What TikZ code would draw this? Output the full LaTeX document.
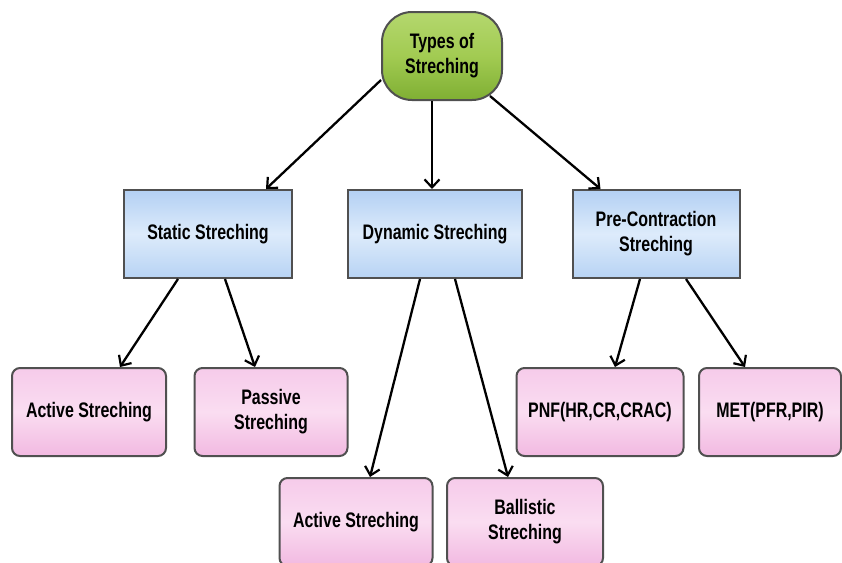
\documentclass[tikz,border=0pt]{standalone}
\usepackage{fontspec}
\setmainfont{Liberation Sans}[FakeStretch=0.76]
\usepackage{tikz}
\usetikzlibrary{arrows.meta}

\definecolor{edge}{HTML}{505050}
\definecolor{greentop}{HTML}{B4D76E}
\definecolor{greenmid}{HTML}{A2CB52}
\definecolor{greenbot}{HTML}{7FAF33}
\definecolor{bluetop}{HTML}{B3D0F3}
\definecolor{bluemid}{HTML}{DDEBFB}
\definecolor{bluebot}{HTML}{B7D3F4}
\definecolor{pinktop}{HTML}{F6CBEA}
\definecolor{pinkmid}{HTML}{FADDF1}
\definecolor{pinkbot}{HTML}{F2B9E1}

\begin{document}
\begin{tikzpicture}[x=1pt,y=-1pt,
    box/.style={draw=edge,line width=2pt,align=center,inner sep=2pt,minimum height=88pt,font=\fontsize{21}{25}\selectfont\bfseries},
    topbox/.style={box,rounded corners=30pt,top color=greentop,bottom color=greenbot,middle color=greenmid,minimum width=120pt},
    midbox/.style={box,top color=bluetop,bottom color=bluebot,middle color=bluemid},
    leafbox/.style={box,rounded corners=8pt,top color=pinktop,bottom color=pinkbot,middle color=pinkmid},
    arr/.style={-{Straight Barb[length=8pt,width=15pt,line width=2.2pt]},line width=2.3pt,black}]

  \useasboundingbox (0,0) rectangle (842,562);

  \node[topbox] (root) at (442,56) {Types of\\Streching};

  \node[midbox,minimum width=168pt] (static) at (208,234) {Static Streching};
  \node[midbox,minimum width=174pt] (dyn) at (435,234) {Dynamic Streching};
  \node[midbox,minimum width=167pt] (pre) at (656,234) {Pre-Contraction\\Streching};

  \node[leafbox,minimum width=154pt] (act1) at (89,412) {Active Streching};
  \node[leafbox,minimum width=153pt] (pass) at (271,412) {Passive\\Streching};
  \node[leafbox,minimum width=153pt] (act2) at (356,522) {Active Streching};
  \node[leafbox,minimum width=156pt] (ball) at (525,522) {Ballistic\\Streching};
  \node[leafbox,minimum width=167pt] (pnf) at (600,412) {PNF(HR,CR,CRAC)};
  \node[leafbox,minimum width=142pt] (met) at (770,412) {MET(PFR,PIR)};

  \draw[arr] ([yshift=-24pt]root.west) -- ([xshift=-27pt]static.north east);
  \draw[arr] ([xshift=-10pt]root.south) -- ([xshift=-3pt]dyn.north);
  \draw[arr] ([xshift=48pt,yshift=5pt]root.south) -- ([xshift=29pt]pre.north west);

  \draw[arr] ([xshift=-30pt]static.south) -- ([xshift=31pt]act1.north);
  \draw[arr] ([xshift=17pt]static.south) -- ([xshift=-16pt]pass.north);
  \draw[arr] ([xshift=-15pt]dyn.south) -- ([xshift=14pt]act2.north);
  \draw[arr] ([xshift=20pt]dyn.south) -- ([xshift=-17pt]ball.north);
  \draw[arr] ([xshift=-16pt]pre.south) -- ([xshift=15pt]pnf.north);
  \draw[arr] ([xshift=30pt]pre.south) -- ([xshift=-25pt]met.north);
\end{tikzpicture}
\end{document}
